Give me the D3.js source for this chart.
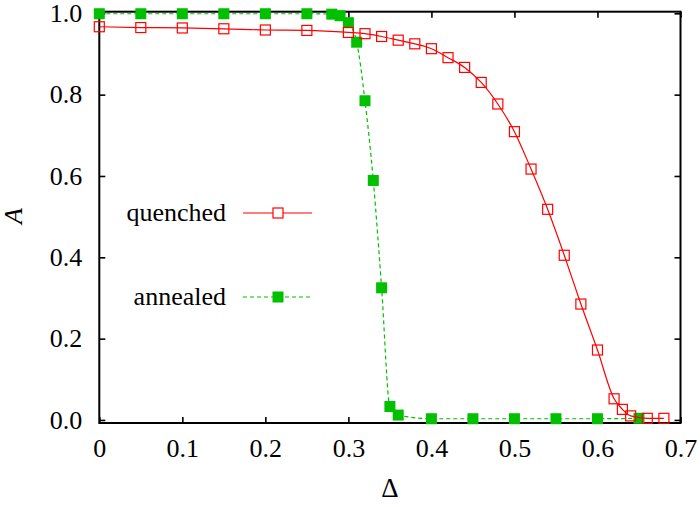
<!DOCTYPE html>
<html><head><meta charset="utf-8">
<script src="https://cdn.jsdelivr.net/npm/d3@7"></script>
<style>
html,body{margin:0;padding:0;background:#fff;}
</style></head>
<body><svg id="chart" width="700" height="507"></svg>
<script>
// Data
const quenchedDelta = [0, 0.05, 0.1, 0.15, 0.2, 0.25, 0.3, 0.32, 0.34, 0.36, 0.38, 0.40, 0.42, 0.44, 0.46, 0.48, 0.50, 0.52, 0.54, 0.56, 0.58, 0.60, 0.62, 0.63, 0.64, 0.66, 0.68];
const quenchedA     = [0.967, 0.965, 0.964, 0.962, 0.959, 0.958, 0.953, 0.950, 0.943, 0.934, 0.925, 0.913, 0.891, 0.867, 0.830, 0.777, 0.709, 0.617, 0.518, 0.405, 0.285, 0.172, 0.052, 0.026, 0.010, 0.004, 0.004];
const annealedDelta = [0, 0.05, 0.1, 0.15, 0.2, 0.25, 0.28, 0.29, 0.30, 0.31, 0.32, 0.33, 0.34, 0.35, 0.36, 0.40, 0.45, 0.50, 0.55, 0.60, 0.65];
const annealedA     = [0.999, 0.999, 0.999, 0.999, 0.999, 0.999, 0.998, 0.994, 0.977, 0.929, 0.785, 0.589, 0.325, 0.033, 0.012, 0.003, 0.003, 0.003, 0.003, 0.003, 0.004];
const xTicks = [0, 0.1, 0.2, 0.3, 0.4, 0.5, 0.6, 0.7];
const yTicks = [0, 0.2, 0.4, 0.6, 0.8, 1.0];
const seriesNames = ["quenched", "annealed"];
const xLabel = "\u0394";
const yLabel = "A";

const FONT = "'Liberation Serif', 'Times New Roman', serif";
const svg = d3.select("#chart");
const L = 99.3, R = 680.5, T = 11.7, B = 423;
const x = d3.scaleLinear().domain([0, 0.7]).range([L, R]);
const y = d3.scaleLinear().domain([-0.0075, 1.004]).range([B, T]);

const red = "#ff0000", green = "#00c000";

const fmtX = d => d === 0 ? "0" : d.toFixed(1);
const ax = g => {
  g.attr("font-family", null);
  g.select(".domain").remove();
  g.selectAll("line").attr("stroke","#000").attr("stroke-width",1.6);
  g.selectAll("text").attr("fill","#000").style("font-family",FONT).style("font-size","26px");
};
svg.append("g").attr("transform",`translate(0,${B})`)
  .call(d3.axisBottom(x).tickValues(xTicks).tickFormat(fmtX).tickSizeInner(-6).tickSizeOuter(0).tickPadding(16)).call(ax);
svg.append("g").attr("transform",`translate(0,${T})`)
  .call(d3.axisTop(x).tickValues(xTicks).tickFormat("").tickSizeInner(-6).tickSizeOuter(0)).call(ax);
svg.append("g").attr("transform",`translate(${L},0)`)
  .call(d3.axisLeft(y).tickValues(yTicks).tickFormat(d3.format(".1f")).tickSizeInner(-6).tickSizeOuter(0).tickPadding(17)).call(ax);
svg.append("g").attr("transform",`translate(${R},0)`)
  .call(d3.axisRight(y).tickValues(yTicks).tickFormat("").tickSizeInner(-6).tickSizeOuter(0)).call(ax);

svg.append("rect").attr("x",L).attr("y",T).attr("width",R-L).attr("height",B-T)
  .attr("fill","none").attr("stroke","#000").attr("stroke-width",2);

svg.append("text").attr("x",(L+R)/2).attr("y",497).attr("text-anchor","middle")
  .style("font-family",FONT).style("font-size","27px").text(xLabel);
svg.append("text").attr("transform","translate(22,216) rotate(-90)").attr("text-anchor","middle")
  .style("font-family",FONT).style("font-size","26px").style("font-style","italic").text(yLabel);

const qData = quenchedDelta.map((d,i)=>[d, quenchedA[i]]);
const aData = annealedDelta.map((d,i)=>[d, annealedA[i]]);
const line = d3.line().x(d=>x(d[0])).y(d=>y(d[1])).curve(d3.curveMonotoneX);

svg.append("path").datum(aData).attr("d",line).attr("fill","none")
  .attr("stroke",green).attr("stroke-width",1.2).attr("stroke-dasharray","4,3");
svg.append("g").selectAll("rect").data(aData).join("rect")
  .attr("x",d=>x(d[0])-5.5).attr("y",d=>y(d[1])-5.5).attr("width",11).attr("height",11)
  .attr("fill",green);

svg.append("path").datum(qData).attr("d",line).attr("fill","none")
  .attr("stroke",red).attr("stroke-width",1.2);
svg.append("g").selectAll("rect").data(qData).join("rect")
  .attr("x",d=>x(d[0])-5).attr("y",d=>y(d[1])-5).attr("width",10).attr("height",10)
  .attr("fill","none").attr("stroke",red).attr("stroke-width",1.2);

const lg = svg.append("g");
const ly = [213, 297];
seriesNames.forEach((n,i)=>{
  lg.append("text").attr("x",226).attr("y",ly[i]).attr("dy","0.32em").attr("text-anchor","end")
    .style("font-family",FONT).style("font-size","26px").text(n);
  lg.append("line").attr("x1",243).attr("x2",312).attr("y1",ly[i]).attr("y2",ly[i])
    .attr("stroke", i===0?red:green).attr("stroke-width",1.2)
    .attr("stroke-dasharray", i===0?null:"4,3");
  if(i===0){
    lg.append("rect").attr("x",278-5).attr("y",ly[i]-5).attr("width",10).attr("height",10)
      .attr("fill","#fff").attr("stroke",red).attr("stroke-width",1.2);
  } else {
    lg.append("rect").attr("x",278-5.5).attr("y",ly[i]-5.5).attr("width",11).attr("height",11)
      .attr("fill",green);
  }
});
</script></body></html>
